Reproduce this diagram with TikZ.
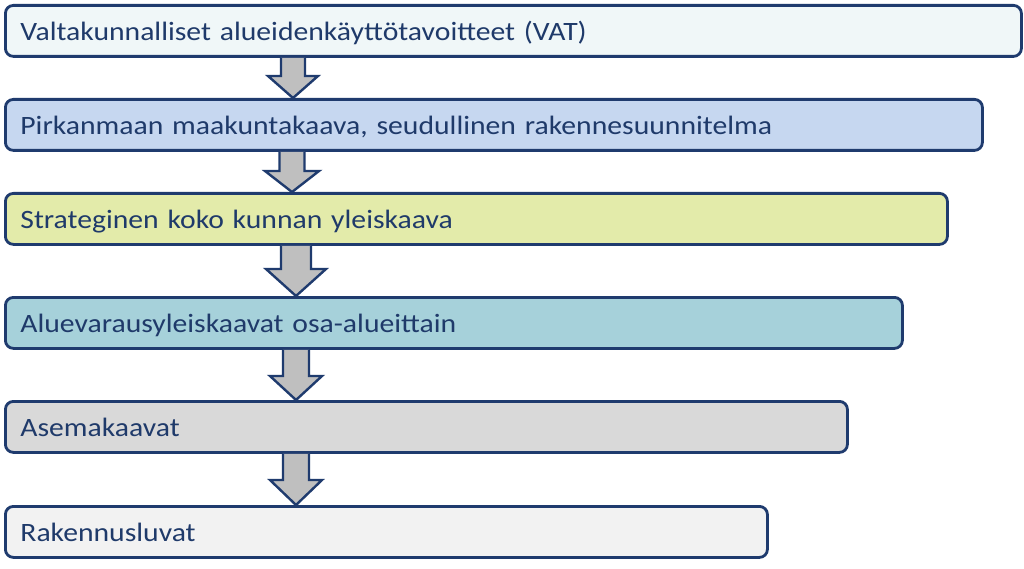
\documentclass[tikz,border=0pt]{standalone}
\usepackage{fontspec}
\setmainfont{Carlito}[FakeStretch=1.12]
\usetikzlibrary{calc}
\definecolor{navy}{HTML}{1F3B6E}
\definecolor{txt}{HTML}{1F3A6A}
\definecolor{cA}{HTML}{F0F7F8}
\definecolor{cB}{HTML}{C6D7F0}
\definecolor{cC}{HTML}{E3EBAA}
\definecolor{cD}{HTML}{A6D1DA}
\definecolor{cE}{HTML}{D9D9D9}
\definecolor{cF}{HTML}{F2F2F2}
\definecolor{agray}{HTML}{BFBFBF}
\tikzset{
  box/.style={draw=navy, line width=2.8pt, rounded corners=8pt, anchor=north west,
    minimum height=51pt, inner xsep=15pt, inner ysep=0pt, text height=20pt, text depth=0pt,
    align=left, font=\fontsize{26.5}{30}\selectfont, text=txt},
  blockarrow/.style={draw=navy, fill=agray, line width=2.4pt, line join=miter},
}
% #1 upper node, #2 lower node, #3 centre x, #4 shaft half width, #5 head half width, #6 head length
\newcommand{\blockarr}[6]{%
  \draw[blockarrow] let \p1=(#1.south), \p2=(#2.north) in
    (#3-#4,\y1) -- (#3-#4,\y2+#6) -- (#3-#5,\y2+#6) -- (#3,\y2) -- (#3+#5,\y2+#6)
    -- (#3+#4,\y2+#6) -- (#3+#4,\y1);
}
\begin{document}
\begin{tikzpicture}[x=1pt,y=-1pt]
\useasboundingbox (0,0) rectangle (1024,569);
\fill[white] (0,0) rectangle (1024,569);
\node[box, fill=cA, minimum width=1016pt, text width=986pt] (b1) at (4,4) {Valtakunnalliset alueidenkäyttötavoitteet (VAT)};
\node[box, fill=cB, minimum width=977pt, text width=947pt] (b2) at (4,98) {Pirkanmaan maakuntakaava, seudullinen rakennesuunnitelma};
\node[box, fill=cC, minimum width=942pt, text width=912pt] (b3) at (4,192) {Strateginen koko kunnan yleiskaava};
\node[box, fill=cD, minimum width=897pt, text width=867pt] (b4) at (4,296) {Aluevarausyleiskaavat osa-alueittain};
\node[box, fill=cE, minimum width=842pt, text width=812pt] (b5) at (4,400) {Asemakaavat};
\node[box, fill=cF, minimum width=762pt, text width=732pt] (b6) at (4,505) {Rakennusluvat};
\blockarr{b1}{b2}{293pt}{12pt}{25pt}{22pt}
\blockarr{b2}{b3}{292pt}{12.5pt}{27pt}{21pt}
\blockarr{b3}{b4}{296pt}{15pt}{30pt}{27pt}
\blockarr{b4}{b5}{296pt}{13pt}{26pt}{24pt}
\blockarr{b5}{b6}{296pt}{13pt}{26pt}{25pt}
\end{tikzpicture}
\end{document}
